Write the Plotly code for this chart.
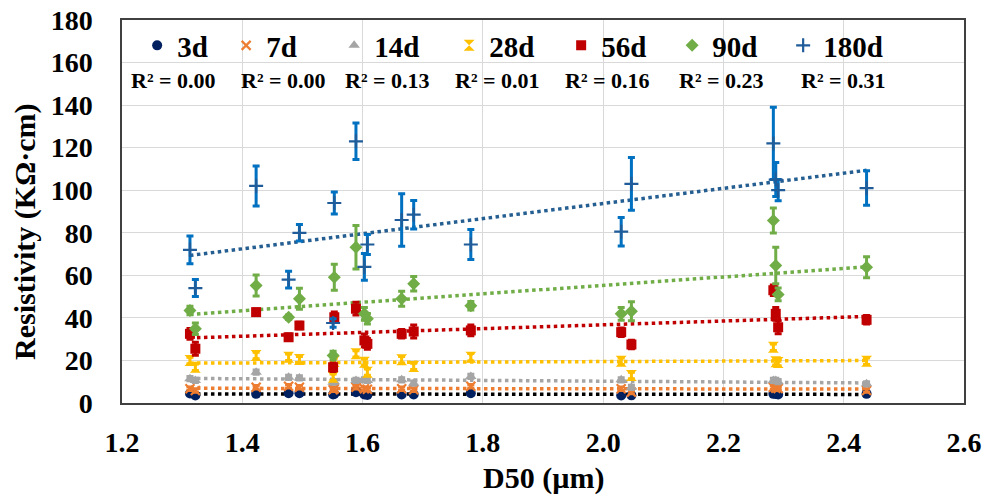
import numpy as np
import plotly.graph_objects as go

# ---------------- data ----------------
d50 = [1.313, 1.322, 1.423, 1.477, 1.495, 1.553, 1.551, 1.589, 1.603, 1.608,
       1.665, 1.685, 1.780, 2.030, 2.047, 2.283, 2.287, 2.291, 2.438]

series_names = ["3d", "7d", "14d", "28d", "56d", "90d", "180d"]

r3 = [4.5, 3.5, 4.3, 4.6, 4.6, 4.2, 4.0, 5.1, 4.0, 3.8, 4.0, 4.0, 4.6, 3.5, 3.6, 4.3, 4.2, 4.0, 4.3]
r3_err = [0.5] * 19
r7 = [6.7, 5.9, 7.4, 7.9, 7.4, 6.7, 6.2, 7.4, 6.7, 6.5, 6.7, 6.2, 7.9, 6.7, 5.1, 7.4, 7.0, 6.8, 5.9]
r7_err = [0.8] * 19
r14 = [11.4, 10.6, 14.5, 12.1, 11.8, 10.0, 9.8, 10.6, 10.9, 10.6, 10.9, 9.3, 12.5, 10.9, 7.4, 10.6, 10.6, 10.0, 9.0]
r14_err = [1.0] * 19
r28 = [20.0, 16.8, 22.3, 21.5, 20.4, 19.5, 12.1, 23.1, 19.2, 14.5, 20.3, 17.2, 21.5, 19.6, 12.9, 26.2, 19.4, 19.0, 19.6]
r28_err = [1.5, 1.5, 1.5, 1.5, 1.5, 1.5, 1.5, 1.5, 1.5, 1.5, 1.5, 1.5, 1.8, 1.5, 1.5, 1.5, 1.5, 1.5, 1.5]
r56 = [32.5, 25.5, 42.7, 30.9, 36.4, 40.3, 16.8, 44.3, 29.4, 27.8, 32.5, 33.6, 34.1, 33.3, 27.5, 53.0, 41.9, 35.6, 39.1]
r56_err = [2.5, 3.0, 1.5, 1.5, 1.5, 2.5, 2.0, 3.0, 3.0, 2.5, 2.0, 3.0, 2.5, 2.0, 2.0, 2.5, 3.0, 3.0, 2.0]
r90 = [43.5, 34.9, 55.2, 40.3, 49.0, 59.1, 22.3, 73.2, 41.9, 39.6, 49.0, 56.0, 45.7, 41.9, 43.1, 85.8, 64.6, 51.0, 63.8]
r90_err = [2.0, 2.7, 4.9, 1.0, 4.9, 6.1, 2.0, 10.2, 3.0, 2.5, 3.5, 3.4, 2.0, 3.0, 4.5, 5.9, 8.6, 3.0, 4.9]
r180 = [72.0, 54.0, 102.0, 58.0, 80.0, 94.0, 37.6, 123.0, 64.0, 74.5, 86.0, 88.5, 74.5, 80.5, 103.0, 122.0, 105.0, 100.0, 101.0]
r180_err = [6.5, 4.0, 9.4, 3.9, 3.9, 5.2, 2.0, 8.6, 6.3, 4.7, 12.3, 6.7, 7.0, 6.7, 12.4, 17.0, 8.0, 5.0, 8.1]

r2_labels = ["R² = 0.00", "R² = 0.00", "R² = 0.13", "R² = 0.01", "R² = 0.16", "R² = 0.23", "R² = 0.31"]

x_ticks = [1.2, 1.4, 1.6, 1.8, 2.0, 2.2, 2.4, 2.6]
y_ticks = [0, 20, 40, 60, 80, 100, 120, 140, 160, 180]

# ---------------- styles ----------------
values = [r3, r7, r14, r28, r56, r90, r180]
errors = [r3_err, r7_err, r14_err, r28_err, r56_err, r90_err, r180_err]
marker_colors = ["#002060", "#ED7D31", "#A5A5A5", "#FFC000", "#C00000", "#70AD47", "#1F5C99"]
err_colors = ["#002060", "#ED7D31", "#A5A5A5", "#FFC000", "#C00000", "#70AD47", "#0070C0"]
trend_colors = ["#000000", "#ED7D31", "#A5A5A5", "#FFC000", "#C00000", "#70AD47", "#255E91"]
symbols = ["circle", "x-thin", "triangle-up", "hourglass", "square", "diamond", "cross-thin"]
sizes = [10, 9, 10, 11, 10, 10, 10]
legend_widths = [44, 63, 70, 67, 66, 66, 66]

SERIF = "Liberation Serif"
# plot area in pixels (for placing free text)
PL, PR, PT, PB = 122, 964, 20, 403
PW, PH = PR - PL, PB - PT


def px_x(px):
    return (px - PL) / PW


def px_y(py):
    return (PB - py) / PH


fig = go.Figure()

xs = np.array(d50)
x_line = np.array([xs.min(), xs.max()])

# trend lines (least squares on the data)
for name, vals, tc in zip(series_names, values, trend_colors):
    k, b = np.polyfit(xs, np.array(vals), 1)
    fig.add_trace(go.Scatter(
        x=x_line, y=k * x_line + b, mode="lines", showlegend=False,
        line=dict(color=tc, width=3.5, dash="3.5px,3.5px"), hoverinfo="skip"))

for name, vals, errs, mc, ec, sym, sz, lw in zip(series_names, values, errors, marker_colors,
                                                err_colors, symbols, sizes, legend_widths):
    mk = dict(color=mc, symbol=sym, size=sz)
    if sym.endswith("thin"):
        mk["line"] = dict(color=mc, width=2.2)
    fig.add_trace(go.Scatter(
        x=d50, y=vals, mode="markers", name=name, marker=mk, legendwidth=lw,
        error_y=dict(type="data", array=errs, visible=True, color=ec,
                     thickness=3, width=3.5)))

annotations = []
r2_x_px = [173, 283, 387, 497, 607, 721, 843]
for lab, px in zip(r2_labels, r2_x_px):
    annotations.append(dict(
        text=lab, x=px_x(px), y=px_y(80), xref="paper", yref="paper",
        showarrow=False, xanchor="center", yanchor="middle",
        font=dict(family=SERIF, size=22, color="black", weight="bold")))

annotations.append(dict(
    text="Resistivity (KΩ·cm)", x=px_x(25), y=px_y(232),
    xref="paper", yref="paper", showarrow=False, textangle=-90,
    xanchor="center", yanchor="middle",
    font=dict(family=SERIF, size=30, color="black", weight="bold")))
annotations.append(dict(
    text="D50 (µm)", x=px_x(543), y=px_y(478),
    xref="paper", yref="paper", showarrow=False,
    xanchor="center", yanchor="middle",
    font=dict(family=SERIF, size=30, color="black", weight="bold")))

fig.update_layout(
    width=990, height=495,
    margin=dict(l=PL, r=990 - PR, t=PT, b=495 - PB, pad=0),
    paper_bgcolor="white", plot_bgcolor="white",
    font=dict(family=SERIF, color="black"),
    showlegend=True,
    legend=dict(orientation="h", x=0.018, y=1.0, xanchor="left", yanchor="top",
                bgcolor="rgba(0,0,0,0)", entrywidthmode="pixels",
                font=dict(family=SERIF, size=29, color="black", weight="bold"),
                itemclick=False, itemdoubleclick=False),
    annotations=annotations,
    xaxis=dict(range=[1.2, 2.6], tickvals=x_ticks, ticktext=[f"{v:.1f}" for v in x_ticks],
               showgrid=True, gridcolor="#D9D9D9", gridwidth=1.3, automargin=False,
               showline=True, linecolor="#404040", linewidth=1.5, mirror=True,
               ticks="", ticklabelstandoff=14, zeroline=False,
               tickfont=dict(family=SERIF, size=28, color="black", weight="bold")),
    yaxis=dict(range=[0, 180], tickvals=y_ticks, automargin=False,
               showgrid=True, gridcolor="#D9D9D9", gridwidth=1.3,
               showline=True, linecolor="#404040", linewidth=1.5, mirror=True,
               ticks="", ticklabelstandoff=22, zeroline=False,
               tickfont=dict(family=SERIF, size=28, color="black", weight="bold")),
)

fig.write_html("out.html")
